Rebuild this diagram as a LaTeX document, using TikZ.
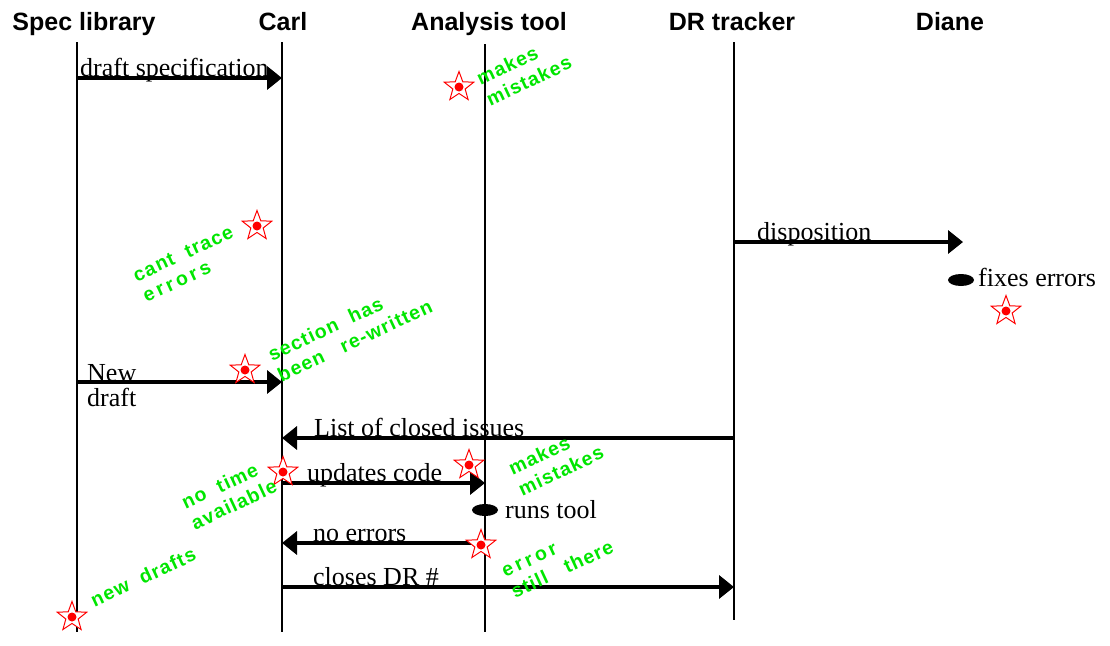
\documentclass[tikz,border=0pt]{standalone}
\usepackage{fontspec}
\setmainfont{Liberation Serif}
\newfontfamily\hdrfont{Liberation Sans}
\newfontfamily\notefont[LetterSpace=6]{Liberation Sans}
\usetikzlibrary{arrows.meta,shapes.geometric}
\definecolor{lgreen}{RGB}{0,230,0}
\begin{document}
\begin{tikzpicture}[x=1pt,y=-1pt,
  lifeline/.style={line width=2.5pt},
  msg/.style={line width=3.5pt,-{Triangle[length=15pt,width=23pt]}},
  hdr/.style={font=\hdrfont\bfseries\fontsize{25}{28}\selectfont, anchor=base, inner sep=0},
  lbl/.style={font=\fontsize{26}{25}\selectfont, anchor=base west, inner sep=0, align=left},
  note/.style={font=\notefont\bfseries\fontsize{19.5}{23}\selectfont, text=lgreen, rotate=25, align=left, inner sep=0},
  starmark/.style={star, star points=5, star point ratio=2.4, draw=red, line width=1pt, minimum size=31pt, inner sep=0},
  dotmark/.style={circle, fill=red, inner sep=0, minimum size=9pt},
  blob/.style={ellipse, fill=black, minimum width=26pt, minimum height=12pt, inner sep=0}]
\useasboundingbox (0,0) rectangle (1110,645);

% headers
\node[hdr] (hspec) at (84,30) {Spec library};
\node[hdr] (hcarl) at (283,30) {Carl};
\node[hdr] (htool) at (489,30) {Analysis tool};
\node[hdr] (hdr) at (732,30) {DR tracker};
\node[hdr] (hdiane) at (950,30) {Diane};

% lifelines
\coordinate (spectop) at (77,42);  \coordinate (specbot) at (77,632);
\coordinate (carltop) at (282,42); \coordinate (carlbot) at (282,632);
\coordinate (tooltop) at (485,44); \coordinate (toolbot) at (485,632);
\coordinate (drtop) at (734,42);   \coordinate (drbot) at (734,620);
\draw[lifeline] (spectop) -- (specbot);
\draw[lifeline] (carltop) -- (carlbot);
\draw[lifeline] (tooltop) -- (toolbot);
\draw[lifeline] (drtop) -- (drbot);

% message coordinates
\coordinate (s1) at (77,78);   \coordinate (c1) at (282,78);
\coordinate (d2) at (734,242); \coordinate (di2) at (963,242);
\coordinate (s3) at (77,382);  \coordinate (c3) at (282,382);
\coordinate (d4) at (734,438); \coordinate (c4) at (282,438);
\coordinate (c5) at (282,483); \coordinate (t5) at (485,483);
\coordinate (t6) at (485,543); \coordinate (c6) at (282,543);
\coordinate (c7) at (282,587); \coordinate (d7) at (734,587);

\draw[msg] (s1) -- (c1);
\draw[msg] (d2) -- (di2);
\draw[msg] (s3) -- (c3);
\draw[msg] (d4) -- (c4);
\draw[msg] (c5) -- (t5);
\draw[msg] (t6) -- (c6);
\draw[msg] (c7) -- (d7);

% message labels
\node[lbl] (l1) at (80,76) {draft specification};
\node[lbl] (l2) at (757,240) {disposition};
\node[lbl] (l3) at (87,406) {New\\draft};
\node[lbl] (l4) at (314,436) {List of closed issues};
\node[lbl] (l5) at (307,481) {updates code};
\node[lbl] (l6) at (313,541) {no errors};
\node[lbl] (l7) at (313,585) {closes DR \#};

% activities
\node[blob] (e1) at (961,280) {};
\node[lbl] (l8) at (978,286) {fixes errors};
\node[blob] (e2) at (485,510) {};
\node[lbl] (l9) at (505,518) {runs tool};

% stars
\foreach \n/\p in {1/{459,87},2/{257,226},3/{1006,311},4/{245,370},5/{283,472},6/{469,465},7/{481,545},8/{72,617}} {
  \node[starmark,fill=white] (st\n) at (\p) {};
  \node[dotmark] (sd\n) at (\p) {};
}

% green notes
\node[note] (n1) at (524,70) {makes\\mistakes};
\node[note] (n2) at (188,264) {cant\ \ trace\\e\,r\,r\,o\,r\,s};
\node[note] (n3) at (350,330) {section\ \ has\\been\quad re-written};
\node[note] (n4) at (556,460) {makes\\mistakes};
\node[note] (n5) at (229,494) {no\ \ time\\available};
\node[note] (n6) at (143,577) {new\ \ drafts};
\node[note] (n7) at (558,560) {e\,r\,r\,o\,r\\still\quad there};
\end{tikzpicture}
\end{document}
